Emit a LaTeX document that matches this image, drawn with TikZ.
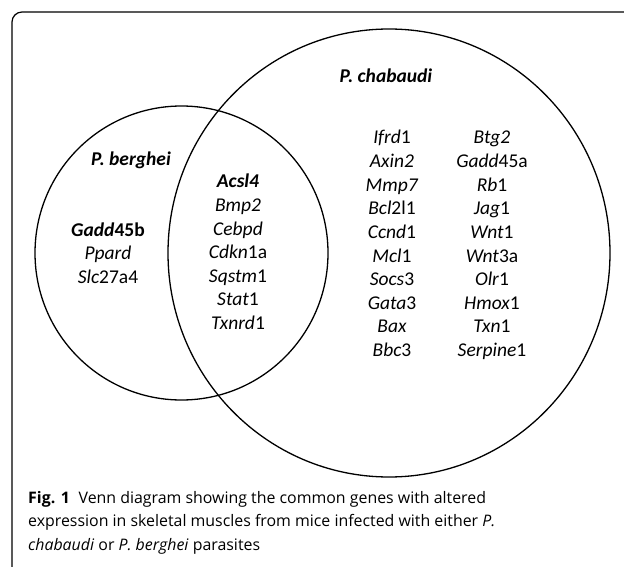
\documentclass[tikz,border=0pt]{standalone}
\usepackage{fontspec}
\setmainfont{Carlito}
\newfontfamily\capfont{Open Sans}
\usetikzlibrary{shapes.geometric}
\begin{document}
\begin{tikzpicture}[x=1pt,y=-1pt,
  gene/.style={anchor=base, inner sep=0pt, font=\fontsize{19.5}{23.6}\selectfont},
  setlabel/.style={gene, font=\fontsize{19.5}{23.6}\selectfont\bfseries\itshape},
  venn/.style={draw, ellipse, inner sep=0pt, line width=1.3pt},
  capline/.style={anchor=base west, inner sep=0pt, font=\capfont\fontsize{15.9}{23.5}\selectfont},
  frame/.style={line width=1.2pt, rounded corners=10pt}]
\useasboundingbox (0,0) rectangle (624,567);
% frame
\coordinate (fbl) at (12,567);
\coordinate (ftl) at (12,12);
\coordinate (ftr) at (624,12);
\draw[frame] (fbl) -- (ftl) -- (ftr);
% sets
\node[venn, minimum width=442pt, minimum height=448pt] (chab) at (389,253) {};
\node[venn, minimum width=293pt, minimum height=294pt] (berg) at (181.5,253) {};
% labels
\node[setlabel] (lchab) at (386,83) {P. chabaudi};
\node[setlabel] (lberg) at (131,166) {P. berghei};
% chabaudi only
\foreach \g [count=\k] in {\textit{Ifrd}1, \textit{Axin2}, \textit{Mmp7}, \textit{Bcl}2l1, \textit{Ccnd}1, \textit{Mcl}1, \textit{Socs}3, \textit{Gata}3, \textit{Bax}, \textit{Bbc}3}
  \node[gene] (ca\k) at (392,{144+23.6*(\k-1)}) {\g};
\foreach \g [count=\k] in {\textit{Btg2}, \textit{Gadd}45a, \textit{Rb}1, \textit{Jag}1, \textit{Wnt}1, \textit{Wnt}3a, \textit{Olr}1, \textit{Hmox}1, \textit{Txn}1, \textit{Serpine}1}
  \node[gene] (cb\k) at (492,{144+23.6*(\k-1)}) {\g};
% common
\foreach \g [count=\k] in {\textbf{\textit{Acsl4}}, \textit{Bmp2}, \textit{Cebpd}, \textit{Cdkn}1a, \textit{Sqstm}1, \textit{Stat}1, \textit{Txnrd}1}
  \node[gene] (cm\k) at (238,{188+23.5*(\k-1)}) {\g};
% berghei only
\foreach \g [count=\k] in {\textbf{\textit{Gadd}45b}, \textit{Ppard}, \textit{Slc}27a4}
  \node[gene] (bg\k) at (108,{236+23.5*(\k-1)}) {\g};
% caption
\node[capline] (cap1) at (28,503) {\textbf{Fig. 1}\hspace{0.55em}Venn diagram showing the common genes with altered};
\node[capline] (cap2) at (28,526.5) {expression in skeletal muscles from mice infected with either \textit{P.}};
\node[capline] (cap3) at (28,550) {\textit{chabaudi} or \textit{P. berghei} parasites};
\end{tikzpicture}
\end{document}
